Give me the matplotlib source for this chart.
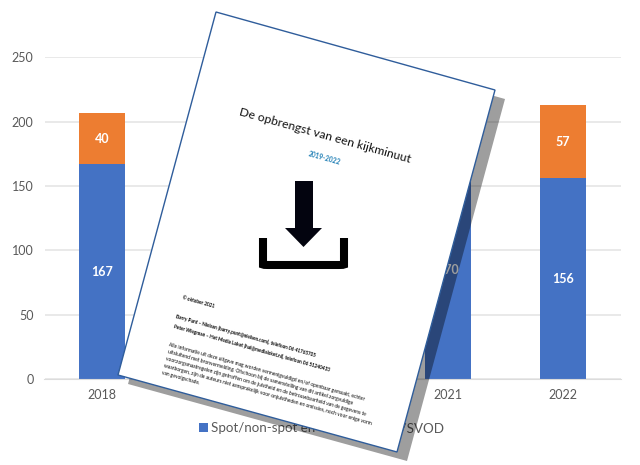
import matplotlib
matplotlib.use('Agg')
import matplotlib.pyplot as plt
from matplotlib.patches import Polygon, PathPatch
from matplotlib.path import Path

plt.rcParams['font.family'] = ['Lato', 'DejaVu Sans']

years = ['2018', '2019', '2020', '2021', '2022']
spot = [167, 165, 160, 170, 156]
vod = [40, 42, 43, 45, 57]
series_names = ['Spot/non-spot en VOD', 'BVOD/SVOD']
yticks = [0, 50, 100, 150, 200, 250]

title = 'De opbrengst van een kijkminuut'
subtitle = '2019-2022'
page_lines = [
    ('© oktober 2021', 182, 298, 'bold'),
    ('Barry Punt – Nielsen (barry.punt@nielsen.com), telefoon 06 41765705', 176, 316, 'bold'),
    ('Peter Wiegman – Het Media Loket (hal@medialoket.nl), telefoon 06 51240433', 174, 326, 'bold'),
    ('Alle informatie uit deze uitgave mag worden vermenigvuldigd en/of openbaar gemaakt, echter', 169, 345, 'normal'),
    ('uitsluitend met bronvermelding. Ofschoon bij de samenstelling van dit artikel zorgvuldige', 168, 352, 'normal'),
    ('voorzorgsmaatregelen zijn getroffen om de juistheid en de betrouwbaarheid van de gegevens te', 166, 359, 'normal'),
    ('waarborgen, zijn de auteurs niet aansprakelijk voor onjuistheden en omissies, noch voor enige vorm', 164, 366, 'normal'),
    ('van gevolgschade.', 162, 373, 'normal'),
]

W, H = 640, 465
fig = plt.figure(figsize=(6.4, 4.65), dpi=100)

# chart underneath the page
ax = fig.add_axes([44.5 / W, 1 - 379 / H, 576 / W, 321.5 / H])
blue = ax.bar(years, spot, width=0.4, color='#4472c4', label=series_names[0])
orange = ax.bar(years, vod, width=0.4, bottom=spot, color='#ed7d31', label=series_names[1])
ax.bar_label(blue, label_type='center', color='white', fontsize=9, fontweight='bold')
ax.bar_label(orange, label_type='center', color='white', fontsize=9, fontweight='bold')
ax.set_xlim(-0.5, 4.5)
ax.set_ylim(0, 250)
ax.set_yticks(yticks)
ax.grid(axis='y', color='#e3e3e3', linewidth=1.1)
ax.set_axisbelow(True)
for side in ['top', 'left', 'right']:
    ax.spines[side].set_visible(False)
ax.spines['bottom'].set_color('#dcdcdc')
ax.tick_params(length=0, labelcolor='#595959', labelsize=9, pad=8)
ax.tick_params(axis='x', pad=7)
ax.legend(loc='center', bbox_to_anchor=(322 / W, 1 - 428 / H), bbox_transform=fig.transFigure,
          ncol=2, frameon=False, fontsize=9.6, labelcolor='#595959', handlelength=0.65,
          handleheight=0.65, handletextpad=0.25, columnspacing=0.2, borderpad=0, borderaxespad=0)

# page on top, in pixel coordinates of the figure
over = fig.add_axes([0, 0, 1, 1])
over.set_xlim(0, W)
over.set_ylim(H, 0)
over.axis('off')
over.patch.set_alpha(0)

corners = [(216, 12), (495, 90), (397, 452), (118, 375)]
shadow = [(x + 10, y + 9) for x, y in corners]
over.add_patch(Polygon(shadow, closed=True, facecolor='black', edgecolor='none', alpha=0.38))
over.add_patch(Polygon(corners, closed=True, facecolor='white', edgecolor='#2f5d9b', linewidth=1))

angle = -15.6
over.text(325, 136, title, rotation=angle, rotation_mode='anchor', ha='center', va='center',
          fontsize=8.8, color='#111111', fontweight='normal')
over.text(324, 158, subtitle, rotation=angle, rotation_mode='anchor', ha='center', va='center',
          fontsize=4.8, color='#1f7fb5', fontweight='bold')
for line, x, y, weight in page_lines:
    over.text(x, y, line, rotation=angle, rotation_mode='anchor', ha='left', va='center',
              fontsize=3.35 if weight == 'bold' else 3.5, color='black', fontweight=weight)

# download icon
arrow = [(295, 181), (313, 181), (313, 228), (322, 228), (303.5, 247), (285, 228), (295, 228)]
over.add_patch(Polygon(arrow, closed=True, facecolor='#03040f', edgecolor='none'))
tray = Path([(263, 238), (263, 264.5), (263, 265), (268, 265), (339, 265), (344, 265), (344, 264.5), (344, 238)],
            [Path.MOVETO, Path.LINETO, Path.CURVE3, Path.CURVE3, Path.LINETO, Path.CURVE3, Path.CURVE3, Path.LINETO])
over.add_patch(PathPatch(tray, facecolor='none', edgecolor='black', linewidth=5.8, capstyle='butt'))

fig.savefig('out.png', dpi=100)
